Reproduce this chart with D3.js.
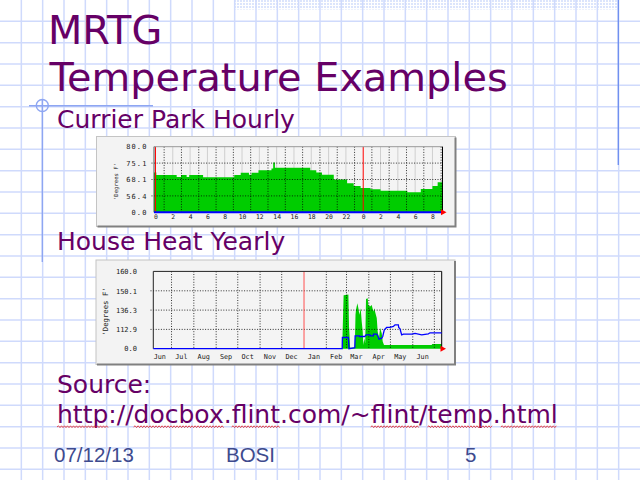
<!DOCTYPE html>
<html><head><meta charset="utf-8">
<script src="https://cdn.jsdelivr.net/npm/d3@7"></script>
<style>html,body{margin:0;padding:0;background:#fff;overflow:hidden}</style>
</head><body>
<script>
// ---------- DATA ----------
// Chart 1: Currier Park Hourly (hours from first midnight, degrees F)
const parkHours = [-0.17, 0.1, 2.45, 2.95, 3.6, 3.9, 5.5, 9.1, 9.85, 10.8, 11.1, 11.9, 13.4, 13.6, 13.8, 17.88, 18.58, 19.24, 20.6, 22.14, 22.9, 23.7, 24.85, 26.0, 29.1, 30.65, 32.0, 32.6, 33.16];
const parkTemps = [71.1, 70.0, 69.2, 70.0, 69.2, 70.0, 69.1, 70.0, 71.0, 70.1, 71.0, 72.1, 72.8, 75.3, 73.1, 72.1, 71.1, 70.1, 68.1, 65.4, 63.5, 62.1, 61.1, 60.1, 59.0, 61.4, 63.5, 66.1, 66.1];
const parkOut = [0, 0];
const parkHourTicks = [0, 2, 4, 6, 8, 10, 12, 14, 16, 18, 20, 22, 24, 26, 28, 30, 32];
const parkHourLabels = ["0","2","4","6","8","10","12","14","16","18","20","22","0","2","4","6","8"];
const parkYTicks = [0, 56.4, 68.1, 75.1, 80.0];

// Chart 2: House Heat Yearly (days from 1 Jan 2013, degrees F)
const heatInDays = [-209.3, 53.0, 55.0, 61.6, 62.5, 63.2, 64.0, 70.5, 71.5, 72.2, 74.1, 75.5, 76.9, 78.7, 80.1, 81.5, 82.4, 83.8, 85.0, 86.1, 88.4, 89.4, 91.7, 94.0, 96.3, 97.7, 98.6, 101.0, 102.3, 104.2, 105.6, 107.9, 109.3, 111.1, 177.3, 178.0, 191.2];
const heatInVals = [0, 0, 147.0, 147.5, 116.5, 81.2, 5.0, 5.0, 130.7, 136.5, 141.2, 137.7, 130.7, 137.7, 122.6, 101.0, 21.8, 61.4, 30.0, 144.3, 144.7, 140.0, 138.9, 140.0, 134.7, 137.7, 134.7, 126.6, 101.0, 61.4, 114.5, 91.1, 41.6, 21.8, 21.8, 27.7, 27.7];
const heatOutDays = [-209.3, 53.0, 53.3, 61.6, 62.5, 70.5, 71.0, 76.9, 77.0, 84.5, 86.1, 91.7, 92.0, 96.3, 96.5, 101.0, 102.3, 104.2, 107.9, 109.3, 111.5, 114.8, 119.4, 124.1, 126.4, 131.0, 131.5, 133.3, 135.6, 138.0, 149.5, 154.2, 163.4, 172.7, 175.0, 191.2];
const heatOutVals = [0, 0, 65.4, 65.4, 0, 5.9, 75.3, 75.3, 71.3, 71.3, 81.2, 81.2, 75.3, 75.3, 85.2, 85.2, 77.0, 55.5, 61.4, 71.3, 110.9, 115.3, 115.3, 116.5, 118.5, 118.5, 115.3, 113.7, 81.2, 85.2, 85.2, 89.1, 81.2, 87.2, 93.1, 93.1];
const heatMonthLabels = ["Jun","Jul","Aug","Sep","Oct","Nov","Dec","Jan","Feb","Mar","Apr","May","Jun"];
const heatYTicks = [0, 112.9, 136.3, 150.1, 160.0];

// ---------- SLIDE ----------
const W = 640, H = 480;
const svg = d3.select("body").append("svg").attr("width", W).attr("height", H)
  .style("display","block").style("background","#fff");
const defs = svg.append("defs");
const pat = defs.append("pattern").attr("id","dots").attr("width",3).attr("height",3).attr("patternUnits","userSpaceOnUse");
pat.append("rect").attr("width",3).attr("height",3).attr("fill","#fff");
pat.append("rect").attr("width",2).attr("height",2).attr("fill","#dce5fc");

svg.append("rect").attr("x",235).attr("y",0).attr("width",382).attr("height",9.5).attr("fill","url(#dots)");

const bg = svg.append("g").attr("stroke","#cfdafc").attr("stroke-width",1.5);
for (let k = 1; k < 30; k++) bg.append("line").attr("x1",k*640/30).attr("x2",k*640/30).attr("y1",0).attr("y2",H);
for (let k = 1; k < 23; k++) bg.append("line").attr("y1",k*640/30).attr("y2",k*640/30).attr("x1",0).attr("x2",W);

const deco = svg.append("g").attr("stroke","#8ea6f2").attr("stroke-width",1.4).attr("fill","none");
deco.append("line").attr("x1",29).attr("x2",153).attr("y1",105.7).attr("y2",105.7);
deco.append("circle").attr("cx",42.3).attr("cy",105.5).attr("r",6);
deco.append("line").attr("x1",42.3).attr("x2",42.3).attr("y1",100).attr("y2",262);
svg.append("line").attr("x1",618.3).attr("x2",618.3).attr("y1",0).attr("y2",165).attr("stroke","#7090f0").attr("stroke-width",1.4);

const purple = "#660066";
function slideText(t, x, y, size){
  return svg.append("text").attr("x",x).attr("y",y).attr("fill",purple)
    .attr("font-family","'DejaVu Sans', sans-serif").attr("font-size",size).text(t);
}
slideText("MRTG", 48, 43.5, 39.8);
slideText("Temperature Examples", 49.5, 90.5, 39.8);
slideText("Currier Park Hourly", 57, 128, 25);
slideText("House Heat Yearly", 57, 250, 25);
slideText("Source:", 57, 393, 25);
const url = slideText("http://docbox.flint.com/~flint/temp.html", 57, 423, 25);

// spell-check squiggles
const urlNode = url.node();
[[0,4],[7,6],[14,5],[25,5],[31,4],[36,4]].forEach(([i,n]) => {
  const x0 = urlNode.getStartPositionOfChar(i).x;
  const x1 = x0 + urlNode.getSubStringLength(i, n);
  let d = `M${x0},427`; let up = true;
  for (let x = x0 + 1.5; x <= x1; x += 1.5) { d += ` L${x},${up ? 425.8 : 427.6}`; up = !up; }
  svg.append("path").attr("d", d).attr("fill","none").attr("stroke","#e52020").attr("stroke-width",0.8);
});

const foot = svg.append("g").attr("fill","#3e4b8e").attr("font-family","'Liberation Sans', Arial, sans-serif").attr("font-size",20.5);
foot.append("text").attr("x",54).attr("y",461.5).text("07/12/13");
foot.append("text").attr("x",226).attr("y",461.5).text("BOSI");
foot.append("text").attr("x",465).attr("y",461.5).text("5");

// ---------- CHART HELPERS ----------
function frame(x, y, w, h){
  svg.append("rect").attr("x",x).attr("y",y).attr("width",w).attr("height",h)
    .attr("fill","#f3f3f3").attr("stroke","#c4c4c4").attr("stroke-width",1);
  svg.append("path").attr("d",`M${x+w},${y+1} V${y+h} H${x+1}`).attr("fill","none")
    .attr("stroke","#808080").attr("stroke-width",2);
}
const mono = "'DejaVu Sans Mono', monospace";
const green = "#00cc00", blue = "#0000ff", red = "#ff0000";

// ---------- CHART 1 ----------
frame(96.5, 136.5, 359, 90);
{
  const x = d3.scaleLinear().domain([-0.17, 33.16]).range([154, 442.5]);
  const y = d3.scaleLinear().domain(parkYTicks).range([212.3, 195.9, 179.5, 163.1, 146.7]);
  const g = svg.append("g");
  g.append("rect").attr("x",154).attr("y",146.7).attr("width",288.5).attr("height",65.6).attr("fill","#f4f4f4");
  parkHourTicks.filter(h => h % 24 !== 0).forEach(h =>
    g.append("line").attr("x1",x(h)).attr("x2",x(h)).attr("y1",146.7).attr("y2",212.3).attr("stroke","#cfcfcf").attr("stroke-width",1));
  const pts = parkHours.map((h,i) => [h, parkTemps[i]]);
  g.append("path").datum(pts).attr("fill", green)
    .attr("d", d3.area().curve(d3.curveStepAfter).x(d => x(d[0])).y0(y(0)).y1(d => y(d[1])));
  const dot = g.append("g").attr("stroke","#000").attr("stroke-width",0.8).attr("stroke-dasharray","1,1.6");
  d3.range(1, 34, 2).forEach(h => dot.append("line").attr("x1",x(h)).attr("x2",x(h)).attr("y1",146.7).attr("y2",212.3));
  parkYTicks.slice(1,4).forEach(v => dot.append("line").attr("x1",151.5).attr("x2",442.5).attr("y1",y(v)).attr("y2",y(v)));
  [0, 24].forEach(h => g.append("line").attr("x1",x(h)).attr("x2",x(h)).attr("y1",146.7).attr("y2",212.3).attr("stroke",red).attr("stroke-width",1));
  g.append("line").attr("x1",154).attr("x2",442.5).attr("y1",146.7).attr("y2",146.7).attr("stroke","#999");
  g.append("line").attr("x1",154).attr("x2",154).attr("y1",146.7).attr("y2",212.3).attr("stroke","#555");
  g.append("line").attr("x1",442.5).attr("x2",442.5).attr("y1",146.7).attr("y2",212.3).attr("stroke","#000");
  g.append("path").datum(parkOut.map((v,i) => [i ? 33.16 : -0.17, v])).attr("fill","none").attr("stroke",blue).attr("stroke-width",2)
    .attr("d", d3.line().x(d => x(d[0])).y(d => y(d[1])));
  g.append("path").attr("d","M441,209.3 L446.5,212.3 L441,215.3 Z").attr("fill",red);
  const ya = svg.append("g").attr("transform","translate(147.5,0)")
    .call(d3.axisLeft(y).tickValues(parkYTicks).tickFormat(d3.format(".1f")).tickSize(0).tickPadding(0));
  ya.select(".domain").remove();
  ya.selectAll("text").attr("font-family",mono).attr("font-size",7).attr("letter-spacing",1.1).attr("fill","#222");
  const xa = svg.append("g").attr("transform","translate(0,214.5)")
    .call(d3.axisBottom(x).tickValues(parkHourTicks).tickFormat((d,i) => parkHourLabels[i]).tickSize(0).tickPadding(0));
  xa.select(".domain").remove();
  xa.selectAll("text").attr("font-family",mono).attr("font-size",6.4).attr("fill","#222");
  svg.append("text").attr("transform","translate(118,181.5) rotate(-90)").attr("text-anchor","middle")
    .attr("font-family",mono).attr("font-size",5.6).attr("fill","#222").text("'Degrees F'");
}

// ---------- CHART 2 ----------
frame(96, 260, 359, 104.5);
{
  const day0 = new Date(2013, 0, 1).getTime();
  const toDate = d => new Date(day0 + d * 864e5);
  const x = d3.scaleTime().domain([toDate(-209.3), toDate(191.2)]).range([153.3, 441.7]);
  const y = d3.scaleLinear().domain(heatYTicks).range([348.7, 329.4, 310.1, 290.8, 271.4]);
  const g = svg.append("g");
  g.append("rect").attr("x",153.3).attr("y",271.4).attr("width",288.4).attr("height",77.3).attr("fill","#f4f4f4");
  const monthStarts = heatMonthLabels.map((m,i) => new Date(2012, 5 + i, 1));
  const tickDates = monthStarts.map(d => new Date(d.getFullYear(), d.getMonth(), 14));
  const bounds = heatMonthLabels.map((m,i) => new Date(2012, 6 + i, 1));
  const inPts = heatInDays.map((d,i) => [toDate(d), heatInVals[i]]);
  g.append("path").datum(inPts).attr("fill", green)
    .attr("d", d3.area().x(d => x(d[0])).y0(y(0)).y1(d => y(d[1])));
  const dot = g.append("g").attr("stroke","#000").attr("stroke-width",0.8).attr("stroke-dasharray","1,1.6");
  bounds.filter(d => d.getMonth() !== 0 && x(d) < 441).forEach(d =>
    dot.append("line").attr("x1",x(d)).attr("x2",x(d)).attr("y1",271.4).attr("y2",348.7));
  heatYTicks.slice(1,4).forEach(v => dot.append("line").attr("x1",150.5).attr("x2",441.7).attr("y1",y(v)).attr("y2",y(v)));
  g.append("line").attr("x1",x(toDate(0))).attr("x2",x(toDate(0))).attr("y1",271.4).attr("y2",348.7).attr("stroke","#ff5050").attr("stroke-width",1);
  g.append("line").attr("x1",153.3).attr("x2",441.7).attr("y1",271.4).attr("y2",271.4).attr("stroke","#222");
  g.append("line").attr("x1",153.3).attr("x2",153.3).attr("y1",271.4).attr("y2",348.7).attr("stroke","#222");
  g.append("line").attr("x1",441.7).attr("x2",441.7).attr("y1",271.4).attr("y2",348.7).attr("stroke","#000");
  const outPts = heatOutDays.map((d,i) => [toDate(d), heatOutVals[i]]);
  g.append("path").datum(outPts).attr("fill","none").attr("stroke",blue).attr("stroke-width",1.3)
    .attr("d", d3.line().x(d => x(d[0])).y(d => y(d[1])));
  g.append("path").attr("d","M440.5,345.7 L446,348.7 L440.5,351.7 Z").attr("fill",red);
  const ya = svg.append("g").attr("transform","translate(137,0)")
    .call(d3.axisLeft(y).tickValues(heatYTicks).tickFormat(d3.format(".1f")).tickSize(0).tickPadding(0));
  ya.select(".domain").remove();
  ya.selectAll("text").attr("font-family",mono).attr("font-size",7).attr("fill","#222");
  const xa = svg.append("g").attr("transform","translate(0,354.5)")
    .call(d3.axisBottom(x).tickValues(tickDates).tickFormat((d,i) => heatMonthLabels[i]).tickSize(0).tickPadding(0));
  xa.select(".domain").remove();
  xa.selectAll("text").attr("font-family",mono).attr("font-size",6.8).attr("fill","#222");
  svg.append("text").attr("transform","translate(107.5,311.5) rotate(-90)").attr("text-anchor","middle")
    .attr("font-family",mono).attr("font-size",7.3).attr("fill","#222").text("'Degrees F'");
}
</script>
</body></html>
